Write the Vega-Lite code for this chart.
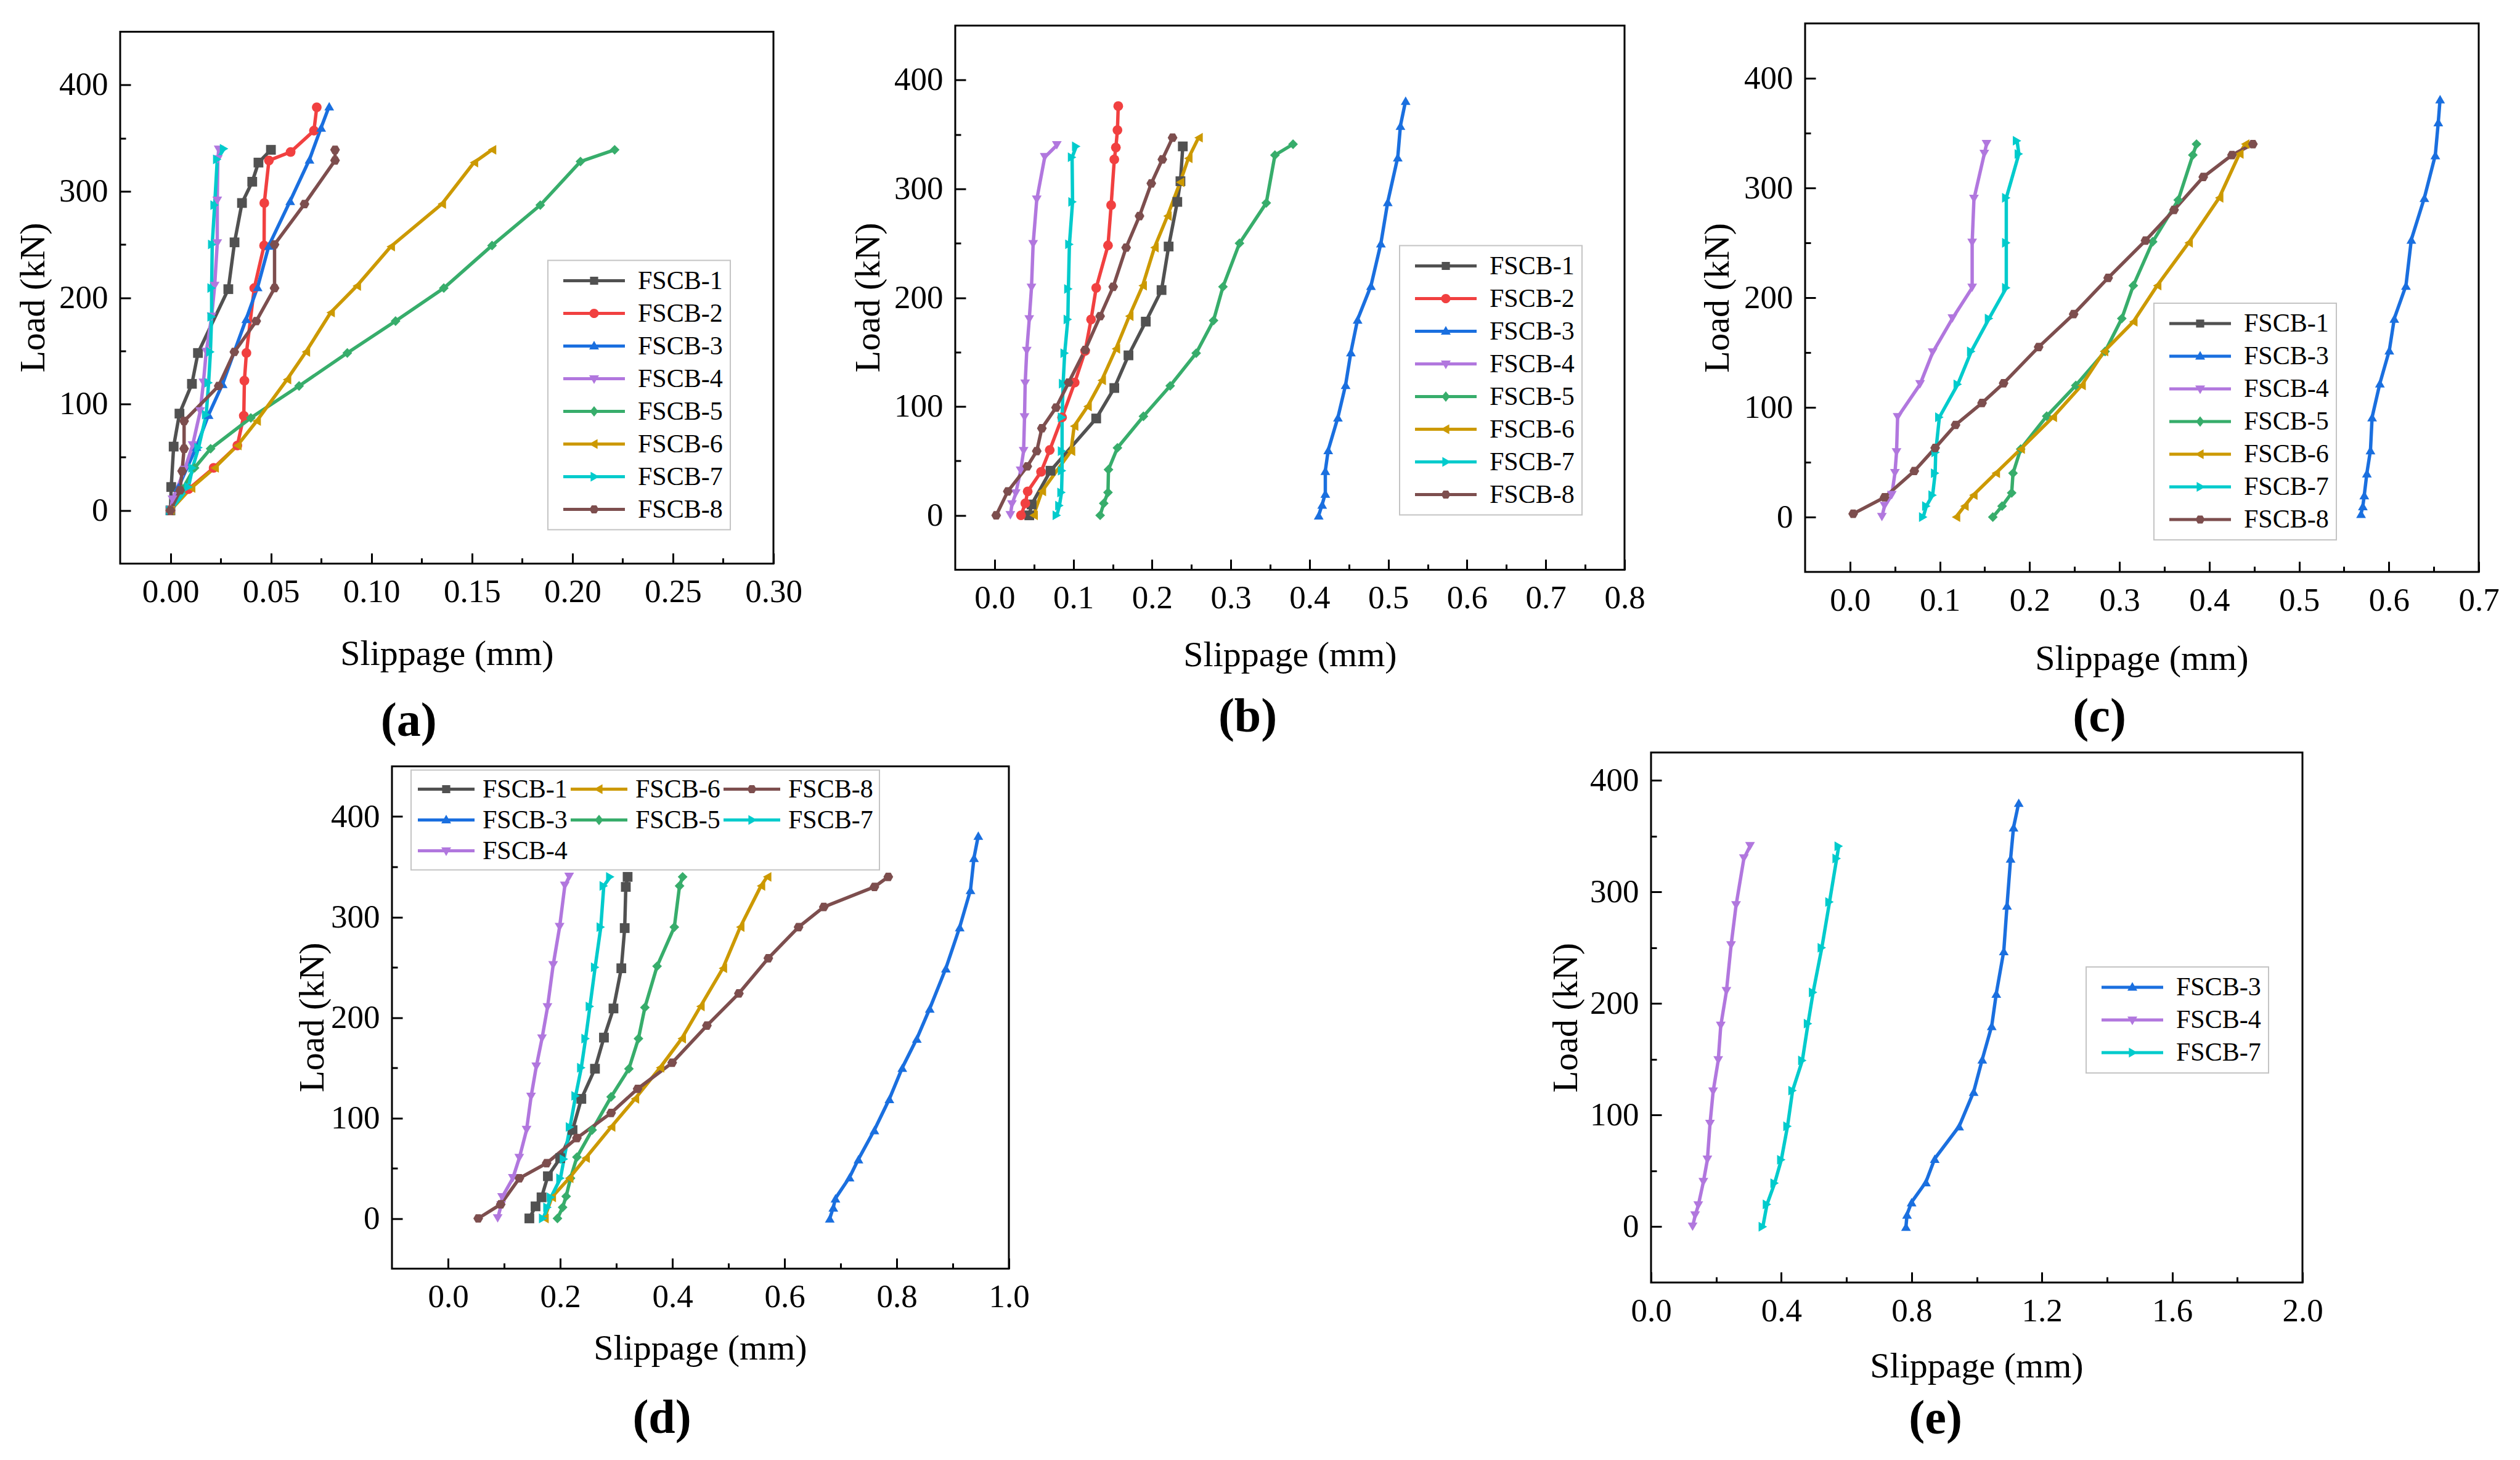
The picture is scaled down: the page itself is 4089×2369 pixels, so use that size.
{
  "$schema": "https://vega.github.io/schema/vega-lite/v6.json",
  "padding": {"left": 23, "top": 36, "right": 5, "bottom": 5},
  "background": "white",
  "spacing": 8,
  "bounds": "full",
  "resolve": {"scale": {"color": "independent", "shape": "independent"}},
  "config": {
    "font": "Liberation Serif",
    "view": {"stroke": "black", "strokeWidth": 3},
    "axis": {
      "labelFont": "Liberation Serif", "labelFontSize": 53, "labelColor": "black",
      "titleFont": "Liberation Serif", "titleFontSize": 58, "titleFontWeight": "normal", "titleColor": "black",
      "titleBaseline": "middle", "titleAlign": "center",
      "tickColor": "black", "tickWidth": 3, "tickSize": -17, "labelPadding": 37,
      "domain": false, "grid": false, "labelFlush": false, "labelOverlap": false
    },
    "legend": {
      "labelFont": "Liberation Serif", "labelFontSize": 42, "labelColor": "black", "labelLimit": 400,
      "strokeColor": "#c4c4c4", "strokeWidth": 2, "fillColor": "white", "symbolStrokeWidth": 0, "symbolOpacity": 1
    },
    "title": {"font": "Liberation Serif", "fontSize": 78, "fontWeight": "bold", "color": "black"}
  },
  "datasets": {
    "a": [
      {"s":"FSCB-1","x":0,"y":0},{"s":"FSCB-1","x":0.0004,"y":22},{"s":"FSCB-1","x":0.0016,"y":60},{"s":"FSCB-1","x":0.0045,"y":91},{"s":"FSCB-1","x":0.0107,"y":119},{"s":"FSCB-1","x":0.0137,"y":148},{"s":"FSCB-1","x":0.0288,"y":208},{"s":"FSCB-1","x":0.0319,"y":252},{"s":"FSCB-1","x":0.0356,"y":289},{"s":"FSCB-1","x":0.0407,"y":309},{"s":"FSCB-1","x":0.0438,"y":327},{"s":"FSCB-1","x":0.05,"y":339},
      {"s":"FSCB-2","x":0,"y":0},{"s":"FSCB-2","x":0.009,"y":20},{"s":"FSCB-2","x":0.0215,"y":40},{"s":"FSCB-2","x":0.0333,"y":61},{"s":"FSCB-2","x":0.0365,"y":89},{"s":"FSCB-2","x":0.0368,"y":122},{"s":"FSCB-2","x":0.0378,"y":148},{"s":"FSCB-2","x":0.0417,"y":209},{"s":"FSCB-2","x":0.0466,"y":249},{"s":"FSCB-2","x":0.0467,"y":289},{"s":"FSCB-2","x":0.049,"y":329},{"s":"FSCB-2","x":0.0598,"y":337},{"s":"FSCB-2","x":0.0714,"y":357},{"s":"FSCB-2","x":0.0728,"y":379},
      {"s":"FSCB-3","x":0,"y":0},{"s":"FSCB-3","x":0.004,"y":22},{"s":"FSCB-3","x":0.013,"y":60},{"s":"FSCB-3","x":0.019,"y":90},{"s":"FSCB-3","x":0.026,"y":119},{"s":"FSCB-3","x":0.0377,"y":180},{"s":"FSCB-3","x":0.0434,"y":210},{"s":"FSCB-3","x":0.049,"y":249},{"s":"FSCB-3","x":0.0596,"y":291},{"s":"FSCB-3","x":0.0692,"y":330},{"s":"FSCB-3","x":0.075,"y":360},{"s":"FSCB-3","x":0.079,"y":380},
      {"s":"FSCB-4","x":0,"y":0},{"s":"FSCB-4","x":0.001,"y":10},{"s":"FSCB-4","x":0.007,"y":38},{"s":"FSCB-4","x":0.011,"y":61},{"s":"FSCB-4","x":0.0148,"y":93},{"s":"FSCB-4","x":0.0164,"y":120},{"s":"FSCB-4","x":0.0178,"y":149},{"s":"FSCB-4","x":0.0205,"y":182},{"s":"FSCB-4","x":0.022,"y":211},{"s":"FSCB-4","x":0.0233,"y":251},{"s":"FSCB-4","x":0.0233,"y":291},{"s":"FSCB-4","x":0.0236,"y":330},{"s":"FSCB-4","x":0.024,"y":339},
      {"s":"FSCB-5","x":0,"y":0},{"s":"FSCB-5","x":0.006,"y":20},{"s":"FSCB-5","x":0.012,"y":40},{"s":"FSCB-5","x":0.02,"y":58},{"s":"FSCB-5","x":0.04,"y":87},{"s":"FSCB-5","x":0.064,"y":117},{"s":"FSCB-5","x":0.088,"y":148},{"s":"FSCB-5","x":0.112,"y":178},{"s":"FSCB-5","x":0.136,"y":209},{"s":"FSCB-5","x":0.16,"y":249},{"s":"FSCB-5","x":0.184,"y":287},{"s":"FSCB-5","x":0.204,"y":328},{"s":"FSCB-5","x":0.221,"y":339},
      {"s":"FSCB-6","x":0,"y":0},{"s":"FSCB-6","x":0.0103,"y":21},{"s":"FSCB-6","x":0.022,"y":40},{"s":"FSCB-6","x":0.0333,"y":61},{"s":"FSCB-6","x":0.0429,"y":84},{"s":"FSCB-6","x":0.058,"y":123},{"s":"FSCB-6","x":0.0674,"y":149},{"s":"FSCB-6","x":0.0797,"y":186},{"s":"FSCB-6","x":0.0927,"y":211},{"s":"FSCB-6","x":0.1096,"y":248},{"s":"FSCB-6","x":0.135,"y":288},{"s":"FSCB-6","x":0.151,"y":327},{"s":"FSCB-6","x":0.16,"y":339},
      {"s":"FSCB-7","x":0,"y":0},{"s":"FSCB-7","x":0.009,"y":22},{"s":"FSCB-7","x":0.011,"y":40},{"s":"FSCB-7","x":0.014,"y":59},{"s":"FSCB-7","x":0.0178,"y":90},{"s":"FSCB-7","x":0.019,"y":120},{"s":"FSCB-7","x":0.0199,"y":149},{"s":"FSCB-7","x":0.0205,"y":182},{"s":"FSCB-7","x":0.0205,"y":209},{"s":"FSCB-7","x":0.0208,"y":250},{"s":"FSCB-7","x":0.022,"y":287},{"s":"FSCB-7","x":0.0233,"y":330},{"s":"FSCB-7","x":0.0267,"y":340},
      {"s":"FSCB-8","x":0,"y":0},{"s":"FSCB-8","x":0.0048,"y":19},{"s":"FSCB-8","x":0.0058,"y":37},{"s":"FSCB-8","x":0.0068,"y":58},{"s":"FSCB-8","x":0.0068,"y":84},{"s":"FSCB-8","x":0.024,"y":117},{"s":"FSCB-8","x":0.0318,"y":149},{"s":"FSCB-8","x":0.0427,"y":178},{"s":"FSCB-8","x":0.0518,"y":209},{"s":"FSCB-8","x":0.0518,"y":250},{"s":"FSCB-8","x":0.0667,"y":288},{"s":"FSCB-8","x":0.0819,"y":329},{"s":"FSCB-8","x":0.0819,"y":339}
    ],
    "b": [
      {"s":"FSCB-1","x":0.044,"y":0},{"s":"FSCB-1","x":0.047,"y":10},{"s":"FSCB-1","x":0.071,"y":41},{"s":"FSCB-1","x":0.129,"y":89},{"s":"FSCB-1","x":0.152,"y":117},{"s":"FSCB-1","x":0.17,"y":147},{"s":"FSCB-1","x":0.192,"y":178},{"s":"FSCB-1","x":0.212,"y":207},{"s":"FSCB-1","x":0.221,"y":247},{"s":"FSCB-1","x":0.232,"y":288},{"s":"FSCB-1","x":0.236,"y":307},{"s":"FSCB-1","x":0.239,"y":339},
      {"s":"FSCB-2","x":0.0335,"y":0},{"s":"FSCB-2","x":0.039,"y":11},{"s":"FSCB-2","x":0.042,"y":22},{"s":"FSCB-2","x":0.059,"y":40},{"s":"FSCB-2","x":0.07,"y":60},{"s":"FSCB-2","x":0.0857,"y":90},{"s":"FSCB-2","x":0.1017,"y":122},{"s":"FSCB-2","x":0.115,"y":151},{"s":"FSCB-2","x":0.1225,"y":180},{"s":"FSCB-2","x":0.129,"y":209},{"s":"FSCB-2","x":0.144,"y":248},{"s":"FSCB-2","x":0.148,"y":285},{"s":"FSCB-2","x":0.152,"y":327},{"s":"FSCB-2","x":0.154,"y":338},{"s":"FSCB-2","x":0.156,"y":354},{"s":"FSCB-2","x":0.157,"y":376},
      {"s":"FSCB-3","x":0.4116,"y":0},{"s":"FSCB-3","x":0.416,"y":10},{"s":"FSCB-3","x":0.42,"y":20},{"s":"FSCB-3","x":0.42,"y":41},{"s":"FSCB-3","x":0.4237,"y":60},{"s":"FSCB-3","x":0.436,"y":90},{"s":"FSCB-3","x":0.4458,"y":120},{"s":"FSCB-3","x":0.4525,"y":150},{"s":"FSCB-3","x":0.461,"y":180},{"s":"FSCB-3","x":0.478,"y":211},{"s":"FSCB-3","x":0.4906,"y":250},{"s":"FSCB-3","x":0.4993,"y":288},{"s":"FSCB-3","x":0.512,"y":329},{"s":"FSCB-3","x":0.5154,"y":358},{"s":"FSCB-3","x":0.522,"y":381},
      {"s":"FSCB-4","x":0.02,"y":0},{"s":"FSCB-4","x":0.022,"y":10},{"s":"FSCB-4","x":0.0268,"y":20},{"s":"FSCB-4","x":0.033,"y":41},{"s":"FSCB-4","x":0.0368,"y":59},{"s":"FSCB-4","x":0.038,"y":90},{"s":"FSCB-4","x":0.0388,"y":121},{"s":"FSCB-4","x":0.0408,"y":151},{"s":"FSCB-4","x":0.044,"y":180},{"s":"FSCB-4","x":0.0468,"y":209},{"s":"FSCB-4","x":0.0489,"y":249},{"s":"FSCB-4","x":0.0535,"y":290},{"s":"FSCB-4","x":0.0636,"y":329},{"s":"FSCB-4","x":0.079,"y":340},
      {"s":"FSCB-5","x":0.134,"y":0},{"s":"FSCB-5","x":0.1386,"y":11},{"s":"FSCB-5","x":0.144,"y":21},{"s":"FSCB-5","x":0.1446,"y":42},{"s":"FSCB-5","x":0.156,"y":62},{"s":"FSCB-5","x":0.189,"y":91},{"s":"FSCB-5","x":0.223,"y":119},{"s":"FSCB-5","x":0.256,"y":149},{"s":"FSCB-5","x":0.278,"y":179},{"s":"FSCB-5","x":0.29,"y":210},{"s":"FSCB-5","x":0.311,"y":250},{"s":"FSCB-5","x":0.345,"y":287},{"s":"FSCB-5","x":0.356,"y":331},{"s":"FSCB-5","x":0.379,"y":341},
      {"s":"FSCB-6","x":0.0495,"y":0},{"s":"FSCB-6","x":0.06,"y":22},{"s":"FSCB-6","x":0.097,"y":59},{"s":"FSCB-6","x":0.101,"y":82},{"s":"FSCB-6","x":0.118,"y":100},{"s":"FSCB-6","x":0.136,"y":124},{"s":"FSCB-6","x":0.154,"y":153},{"s":"FSCB-6","x":0.171,"y":183},{"s":"FSCB-6","x":0.188,"y":211},{"s":"FSCB-6","x":0.203,"y":246},{"s":"FSCB-6","x":0.2195,"y":275},{"s":"FSCB-6","x":0.2356,"y":306},{"s":"FSCB-6","x":0.246,"y":328},{"s":"FSCB-6","x":0.259,"y":347},
      {"s":"FSCB-7","x":0.079,"y":0},{"s":"FSCB-7","x":0.0823,"y":9},{"s":"FSCB-7","x":0.085,"y":21},{"s":"FSCB-7","x":0.0857,"y":41},{"s":"FSCB-7","x":0.0857,"y":59},{"s":"FSCB-7","x":0.0857,"y":90},{"s":"FSCB-7","x":0.087,"y":121},{"s":"FSCB-7","x":0.089,"y":149},{"s":"FSCB-7","x":0.093,"y":180},{"s":"FSCB-7","x":0.0937,"y":208},{"s":"FSCB-7","x":0.095,"y":249},{"s":"FSCB-7","x":0.099,"y":288},{"s":"FSCB-7","x":0.0984,"y":329},{"s":"FSCB-7","x":0.1037,"y":339},
      {"s":"FSCB-8","x":0.002,"y":0},{"s":"FSCB-8","x":0.0167,"y":22},{"s":"FSCB-8","x":0.0415,"y":45},{"s":"FSCB-8","x":0.0535,"y":59},{"s":"FSCB-8","x":0.06,"y":80},{"s":"FSCB-8","x":0.078,"y":99},{"s":"FSCB-8","x":0.094,"y":122},{"s":"FSCB-8","x":0.115,"y":152},{"s":"FSCB-8","x":0.134,"y":183},{"s":"FSCB-8","x":0.1506,"y":210},{"s":"FSCB-8","x":0.167,"y":246},{"s":"FSCB-8","x":0.184,"y":275},{"s":"FSCB-8","x":0.199,"y":305},{"s":"FSCB-8","x":0.213,"y":327},{"s":"FSCB-8","x":0.226,"y":347}
    ],
    "c": [
      {"s":"FSCB-3","x":0.569,"y":3},{"s":"FSCB-3","x":0.571,"y":10},{"s":"FSCB-3","x":0.5726,"y":20},{"s":"FSCB-3","x":0.5755,"y":40},{"s":"FSCB-3","x":0.5795,"y":61},{"s":"FSCB-3","x":0.5813,"y":91},{"s":"FSCB-3","x":0.59,"y":122},{"s":"FSCB-3","x":0.6005,"y":152},{"s":"FSCB-3","x":0.606,"y":181},{"s":"FSCB-3","x":0.619,"y":211},{"s":"FSCB-3","x":0.625,"y":253},{"s":"FSCB-3","x":0.6395,"y":291},{"s":"FSCB-3","x":0.6517,"y":330},{"s":"FSCB-3","x":0.655,"y":360},{"s":"FSCB-3","x":0.657,"y":381},
      {"s":"FSCB-4","x":0.0355,"y":0},{"s":"FSCB-4","x":0.0384,"y":10},{"s":"FSCB-4","x":0.0465,"y":20},{"s":"FSCB-4","x":0.05,"y":40},{"s":"FSCB-4","x":0.0518,"y":59},{"s":"FSCB-4","x":0.053,"y":91},{"s":"FSCB-4","x":0.078,"y":121},{"s":"FSCB-4","x":0.092,"y":150},{"s":"FSCB-4","x":0.114,"y":181},{"s":"FSCB-4","x":0.136,"y":209},{"s":"FSCB-4","x":0.136,"y":250},{"s":"FSCB-4","x":0.138,"y":290},{"s":"FSCB-4","x":0.1495,"y":331},{"s":"FSCB-4","x":0.152,"y":340},
      {"s":"FSCB-5","x":0.159,"y":0},{"s":"FSCB-5","x":0.1693,"y":10},{"s":"FSCB-5","x":0.18,"y":22},{"s":"FSCB-5","x":0.1815,"y":40},{"s":"FSCB-5","x":0.19,"y":62},{"s":"FSCB-5","x":0.219,"y":92},{"s":"FSCB-5","x":0.2514,"y":120},{"s":"FSCB-5","x":0.284,"y":151},{"s":"FSCB-5","x":0.3026,"y":181},{"s":"FSCB-5","x":0.3154,"y":211},{"s":"FSCB-5","x":0.337,"y":251},{"s":"FSCB-5","x":0.3654,"y":289},{"s":"FSCB-5","x":0.3817,"y":330},{"s":"FSCB-5","x":0.3858,"y":340},
      {"s":"FSCB-6","x":0.118,"y":0},{"s":"FSCB-6","x":0.1274,"y":10},{"s":"FSCB-6","x":0.1373,"y":20},{"s":"FSCB-6","x":0.1623,"y":40},{"s":"FSCB-6","x":0.19,"y":62},{"s":"FSCB-6","x":0.2258,"y":91},{"s":"FSCB-6","x":0.2578,"y":120},{"s":"FSCB-6","x":0.2828,"y":151},{"s":"FSCB-6","x":0.3154,"y":178},{"s":"FSCB-6","x":0.342,"y":211},{"s":"FSCB-6","x":0.377,"y":250},{"s":"FSCB-6","x":0.411,"y":291},{"s":"FSCB-6","x":0.4335,"y":331},{"s":"FSCB-6","x":0.44,"y":340},
      {"s":"FSCB-7","x":0.0815,"y":0},{"s":"FSCB-7","x":0.085,"y":10},{"s":"FSCB-7","x":0.092,"y":20},{"s":"FSCB-7","x":0.0948,"y":40},{"s":"FSCB-7","x":0.0954,"y":59},{"s":"FSCB-7","x":0.0995,"y":91},{"s":"FSCB-7","x":0.12,"y":121},{"s":"FSCB-7","x":0.135,"y":151},{"s":"FSCB-7","x":0.1548,"y":181},{"s":"FSCB-7","x":0.174,"y":209},{"s":"FSCB-7","x":0.174,"y":250},{"s":"FSCB-7","x":0.174,"y":291},{"s":"FSCB-7","x":0.188,"y":331},{"s":"FSCB-7","x":0.186,"y":343},
      {"s":"FSCB-8","x":0.0035,"y":3},{"s":"FSCB-8","x":0.0384,"y":18},{"s":"FSCB-8","x":0.0716,"y":42},{"s":"FSCB-8","x":0.0948,"y":63},{"s":"FSCB-8","x":0.1175,"y":84},{"s":"FSCB-8","x":0.147,"y":104},{"s":"FSCB-8","x":0.171,"y":122},{"s":"FSCB-8","x":0.21,"y":155},{"s":"FSCB-8","x":0.249,"y":185},{"s":"FSCB-8","x":0.2874,"y":218},{"s":"FSCB-8","x":0.329,"y":252},{"s":"FSCB-8","x":0.3608,"y":280},{"s":"FSCB-8","x":0.3933,"y":310},{"s":"FSCB-8","x":0.4253,"y":330},{"s":"FSCB-8","x":0.4486,"y":340}
    ],
    "d": [
      {"s":"FSCB-1","x":0.145,"y":0},{"s":"FSCB-1","x":0.156,"y":12},{"s":"FSCB-1","x":0.1667,"y":21},{"s":"FSCB-1","x":0.178,"y":42},{"s":"FSCB-1","x":0.2,"y":60},{"s":"FSCB-1","x":0.222,"y":88},{"s":"FSCB-1","x":0.2377,"y":119},{"s":"FSCB-1","x":0.262,"y":149},{"s":"FSCB-1","x":0.278,"y":180},{"s":"FSCB-1","x":0.295,"y":209},{"s":"FSCB-1","x":0.309,"y":249},{"s":"FSCB-1","x":0.315,"y":289},{"s":"FSCB-1","x":0.317,"y":330},{"s":"FSCB-1","x":0.3202,"y":340},
      {"s":"FSCB-3","x":0.6807,"y":0},{"s":"FSCB-3","x":0.687,"y":11},{"s":"FSCB-3","x":0.6908,"y":20},{"s":"FSCB-3","x":0.716,"y":41},{"s":"FSCB-3","x":0.7318,"y":59},{"s":"FSCB-3","x":0.7602,"y":88},{"s":"FSCB-3","x":0.787,"y":119},{"s":"FSCB-3","x":0.81,"y":150},{"s":"FSCB-3","x":0.8359,"y":179},{"s":"FSCB-3","x":0.859,"y":209},{"s":"FSCB-3","x":0.8877,"y":249},{"s":"FSCB-3","x":0.9124,"y":290},{"s":"FSCB-3","x":0.9316,"y":327},{"s":"FSCB-3","x":0.9378,"y":359},{"s":"FSCB-3","x":0.9455,"y":381},
      {"s":"FSCB-4","x":0.0885,"y":0},{"s":"FSCB-4","x":0.0947,"y":13},{"s":"FSCB-4","x":0.0963,"y":21},{"s":"FSCB-4","x":0.1155,"y":40},{"s":"FSCB-4","x":0.127,"y":60},{"s":"FSCB-4","x":0.14,"y":88},{"s":"FSCB-4","x":0.148,"y":121},{"s":"FSCB-4","x":0.1573,"y":151},{"s":"FSCB-4","x":0.1675,"y":179},{"s":"FSCB-4","x":0.1773,"y":210},{"s":"FSCB-4","x":0.1874,"y":252},{"s":"FSCB-4","x":0.1989,"y":290},{"s":"FSCB-4","x":0.2082,"y":331},{"s":"FSCB-4","x":0.216,"y":340},
      {"s":"FSCB-5","x":0.1951,"y":0},{"s":"FSCB-5","x":0.2043,"y":11},{"s":"FSCB-5","x":0.2106,"y":22},{"s":"FSCB-5","x":0.2184,"y":40},{"s":"FSCB-5","x":0.2298,"y":61},{"s":"FSCB-5","x":0.257,"y":88},{"s":"FSCB-5","x":0.2908,"y":121},{"s":"FSCB-5","x":0.3225,"y":149},{"s":"FSCB-5","x":0.3395,"y":179},{"s":"FSCB-5","x":0.351,"y":210},{"s":"FSCB-5","x":0.3727,"y":251},{"s":"FSCB-5","x":0.4035,"y":290},{"s":"FSCB-5","x":0.4128,"y":331},{"s":"FSCB-5","x":0.4183,"y":340},
      {"s":"FSCB-6","x":0.172,"y":0},{"s":"FSCB-6","x":0.185,"y":21},{"s":"FSCB-6","x":0.216,"y":40},{"s":"FSCB-6","x":0.2453,"y":60},{"s":"FSCB-6","x":0.2908,"y":91},{"s":"FSCB-6","x":0.3333,"y":119},{"s":"FSCB-6","x":0.378,"y":150},{"s":"FSCB-6","x":0.4167,"y":179},{"s":"FSCB-6","x":0.45,"y":211},{"s":"FSCB-6","x":0.4901,"y":249},{"s":"FSCB-6","x":0.521,"y":290},{"s":"FSCB-6","x":0.558,"y":331},{"s":"FSCB-6","x":0.569,"y":340},
      {"s":"FSCB-7","x":0.1696,"y":0},{"s":"FSCB-7","x":0.1773,"y":11},{"s":"FSCB-7","x":0.1835,"y":21},{"s":"FSCB-7","x":0.2005,"y":40},{"s":"FSCB-7","x":0.2067,"y":59},{"s":"FSCB-7","x":0.2175,"y":91},{"s":"FSCB-7","x":0.2275,"y":122},{"s":"FSCB-7","x":0.2376,"y":150},{"s":"FSCB-7","x":0.2453,"y":179},{"s":"FSCB-7","x":0.253,"y":211},{"s":"FSCB-7","x":0.2623,"y":250},{"s":"FSCB-7","x":0.2724,"y":290},{"s":"FSCB-7","x":0.2777,"y":331},{"s":"FSCB-7","x":0.2893,"y":340},
      {"s":"FSCB-8","x":0.0538,"y":0},{"s":"FSCB-8","x":0.0939,"y":14},{"s":"FSCB-8","x":0.1272,"y":40},{"s":"FSCB-8","x":0.1758,"y":55},{"s":"FSCB-8","x":0.2298,"y":80},{"s":"FSCB-8","x":0.2908,"y":105},{"s":"FSCB-8","x":0.338,"y":129},{"s":"FSCB-8","x":0.3997,"y":155},{"s":"FSCB-8","x":0.4616,"y":192},{"s":"FSCB-8","x":0.5186,"y":224},{"s":"FSCB-8","x":0.5711,"y":259},{"s":"FSCB-8","x":0.625,"y":290},{"s":"FSCB-8","x":0.67,"y":310},{"s":"FSCB-8","x":0.7603,"y":330},{"s":"FSCB-8","x":0.785,"y":340}
    ],
    "e": [
      {"s":"FSCB-3","x":0.7827,"y":0},{"s":"FSCB-3","x":0.786,"y":11},{"s":"FSCB-3","x":0.8,"y":22},{"s":"FSCB-3","x":0.844,"y":40},{"s":"FSCB-3","x":0.871,"y":61},{"s":"FSCB-3","x":0.946,"y":90},{"s":"FSCB-3","x":0.9906,"y":121},{"s":"FSCB-3","x":1.017,"y":150},{"s":"FSCB-3","x":1.046,"y":180},{"s":"FSCB-3","x":1.06,"y":209},{"s":"FSCB-3","x":1.083,"y":247},{"s":"FSCB-3","x":1.093,"y":288},{"s":"FSCB-3","x":1.104,"y":330},{"s":"FSCB-3","x":1.113,"y":358},{"s":"FSCB-3","x":1.129,"y":380},
      {"s":"FSCB-4","x":0.1276,"y":0},{"s":"FSCB-4","x":0.1354,"y":10},{"s":"FSCB-4","x":0.145,"y":19},{"s":"FSCB-4","x":0.1606,"y":40},{"s":"FSCB-4","x":0.173,"y":60},{"s":"FSCB-4","x":0.181,"y":92},{"s":"FSCB-4","x":0.1906,"y":121},{"s":"FSCB-4","x":0.2063,"y":149},{"s":"FSCB-4","x":0.214,"y":180},{"s":"FSCB-4","x":0.2315,"y":211},{"s":"FSCB-4","x":0.2457,"y":252},{"s":"FSCB-4","x":0.261,"y":288},{"s":"FSCB-4","x":0.285,"y":330},{"s":"FSCB-4","x":0.304,"y":341},
      {"s":"FSCB-7","x":0.3433,"y":0},{"s":"FSCB-7","x":0.356,"y":20},{"s":"FSCB-7","x":0.3795,"y":39},{"s":"FSCB-7","x":0.4,"y":60},{"s":"FSCB-7","x":0.419,"y":90},{"s":"FSCB-7","x":0.4346,"y":122},{"s":"FSCB-7","x":0.4646,"y":149},{"s":"FSCB-7","x":0.482,"y":182},{"s":"FSCB-7","x":0.4976,"y":210},{"s":"FSCB-7","x":0.5244,"y":250},{"s":"FSCB-7","x":0.548,"y":291},{"s":"FSCB-7","x":0.57,"y":330},{"s":"FSCB-7","x":0.5764,"y":341}
    ]
  },
  "vconcat": [
    {
      "hconcat": [
        {
          "width": 1060, "height": 863,
          "data": {"name": "a"},
          "title": {"text": "(a)", "orient": "bottom", "frame": "bounds", "anchor": "middle", "offset": 41},
          "layer": [
            {"mark": {"type": "line", "strokeWidth": 5.5},
             "encoding": {
               "x": {"field": "x", "type": "quantitative", "scale": {"domain": [-0.025, 0.3], "nice": false, "zero": false},
                     "axis": {"orient": "bottom", "values": [0, 0.05, 0.1, 0.15, 0.2, 0.25, 0.3], "format": ".2f", "title": "Slippage (mm)", "titleX": 530, "titleY": 147}},
               "y": {"field": "y", "type": "quantitative", "scale": {"domain": [-50, 450], "nice": false, "zero": false},
                     "axis": {"orient": "left", "values": [0, 100, 200, 300, 400], "title": "Load (kN)", "titleX": -141, "titleY": 431}},
               "color": {"field": "s", "type": "nominal", "legend": null,
                         "scale": {"domain": ["FSCB-1","FSCB-2","FSCB-3","FSCB-4","FSCB-5","FSCB-6","FSCB-7","FSCB-8"], "range": ["#515151","#F14040","#1A6FDF","#B177DE","#37AD6B","#CC9900","#00CBCC","#7D4E4E"]}},
               "order": {"value": null}
             }},
            {"mark": {"type": "point", "filled": true, "size": 250, "opacity": 1},
             "encoding": {
               "x": {"field": "x", "type": "quantitative", "axis": null},
               "y": {"field": "y", "type": "quantitative", "axis": null},
               "color": {"field": "s", "type": "nominal", "legend": null,
                         "scale": {"domain": ["FSCB-1","FSCB-2","FSCB-3","FSCB-4","FSCB-5","FSCB-6","FSCB-7","FSCB-8"], "range": ["#515151","#F14040","#1A6FDF","#B177DE","#37AD6B","#CC9900","#00CBCC","#7D4E4E"]}},
               "shape": {"field": "s", "type": "nominal", "legend": null,
                         "scale": {"domain": ["FSCB-1","FSCB-2","FSCB-3","FSCB-4","FSCB-5","FSCB-6","FSCB-7","FSCB-8"], "range": ["square","circle","triangle-up","triangle-down","diamond","triangle-left","triangle-right","M-1,0L-0.5,-0.866L0.5,-0.866L1,0L0.5,0.866L-0.5,0.866Z"]}}
             }},
            {"transform": [{"filter": "false"}],
             "mark": {"type": "point", "filled": true, "opacity": 1},
             "encoding": {
               "x": {"field": "x", "type": "quantitative", "axis": {"orient": "bottom", "values": [0.025, 0.075, 0.125, 0.175, 0.225, 0.275], "labels": false, "tickSize": -9, "title": null}},
               "y": {"field": "y", "type": "quantitative", "axis": {"orient": "left", "values": [50, 150, 250, 350], "labels": false, "tickSize": -9, "title": null}},
               "color": {"field": "s", "type": "nominal",
                         "scale": {"domain": ["FSCB-1","FSCB-2","FSCB-3","FSCB-4","FSCB-5","FSCB-6","FSCB-7","FSCB-8"], "range": ["#515151","#F14040","#1A6FDF","#B177DE","#37AD6B","#CC9900","#00CBCC","#7D4E4E"]},
                         "legend": {"orient": "none", "legendX": 694, "legendY": 371, "title": null, "symbolSize": 1600, "symbolOffset": 42, "labelOffset": 50, "padding": 12, "rowPadding": 11}},
               "shape": {"field": "s", "type": "nominal",
                         "scale": {"domain": ["FSCB-1","FSCB-2","FSCB-3","FSCB-4","FSCB-5","FSCB-6","FSCB-7","FSCB-8"],
                                   "range": [
                                     "M-2.5,-0.12L2.5,-0.12L2.5,0.12L-2.5,0.12ZM-0.33,-0.33L0.33,-0.33L0.33,0.33L-0.33,0.33Z",
                                     "M-2.5,-0.12L2.5,-0.12L2.5,0.12L-2.5,0.12ZM0.38,0A0.38,0.38,0,1,1,-0.38,0A0.38,0.38,0,1,1,0.38,0Z",
                                     "M-2.5,-0.12L2.5,-0.12L2.5,0.12L-2.5,0.12ZM0,-0.42L0.4,0.28L-0.4,0.28Z",
                                     "M-2.5,-0.12L2.5,-0.12L2.5,0.12L-2.5,0.12ZM0,0.42L-0.4,-0.28L0.4,-0.28Z",
                                     "M-2.5,-0.12L2.5,-0.12L2.5,0.12L-2.5,0.12ZM0,-0.42L0.34,0L0,0.42L-0.34,0Z",
                                     "M-2.5,-0.12L2.5,-0.12L2.5,0.12L-2.5,0.12ZM-0.42,0L0.28,-0.4L0.28,0.4Z",
                                     "M-2.5,-0.12L2.5,-0.12L2.5,0.12L-2.5,0.12ZM0.42,0L-0.28,0.4L-0.28,-0.4Z",
                                     "M-2.5,-0.12L2.5,-0.12L2.5,0.12L-2.5,0.12ZM-0.38,0L-0.19,-0.33L0.19,-0.33L0.38,0L0.19,0.33L-0.19,0.33Z"]},
                         "legend": {"orient": "none", "legendX": 694, "legendY": 371, "title": null, "symbolSize": 1600, "symbolOffset": 42, "labelOffset": 50, "padding": 12, "rowPadding": 11}}
             }}
          ],
          "resolve": {"scale": {"shape": "independent", "color": "independent"}, "axis": {"x": "independent", "y": "independent"}}
        },
        {"width": 295, "height": 1, "data": {"values": []}, "mark": "point", "view": {"stroke": null}},
        {
          "width": 1086, "height": 883,
          "data": {"name": "b"},
          "title": {"text": "(b)", "orient": "bottom", "frame": "bounds", "anchor": "middle", "offset": 32},
          "layer": [
            {"mark": {"type": "line", "strokeWidth": 5.5},
             "encoding": {
               "x": {"field": "x", "type": "quantitative", "scale": {"domain": [-0.05, 0.8], "nice": false, "zero": false},
                     "axis": {"orient": "bottom", "values": [0, 0.1, 0.2, 0.3, 0.4, 0.5, 0.6, 0.7, 0.8], "format": ".1f", "title": "Slippage (mm)", "titleX": 543, "titleY": 139}},
               "y": {"field": "y", "type": "quantitative", "scale": {"domain": [-50, 450], "nice": false, "zero": false},
                     "axis": {"orient": "left", "values": [0, 100, 200, 300, 400], "title": "Load (kN)", "titleX": -141, "titleY": 441}},
               "color": {"field": "s", "type": "nominal", "legend": null,
                         "scale": {"domain": ["FSCB-1","FSCB-2","FSCB-3","FSCB-4","FSCB-5","FSCB-6","FSCB-7","FSCB-8"], "range": ["#515151","#F14040","#1A6FDF","#B177DE","#37AD6B","#CC9900","#00CBCC","#7D4E4E"]}},
               "order": {"value": null}
             }},
            {"mark": {"type": "point", "filled": true, "size": 250, "opacity": 1},
             "encoding": {
               "x": {"field": "x", "type": "quantitative", "axis": null},
               "y": {"field": "y", "type": "quantitative", "axis": null},
               "color": {"field": "s", "type": "nominal", "legend": null,
                         "scale": {"domain": ["FSCB-1","FSCB-2","FSCB-3","FSCB-4","FSCB-5","FSCB-6","FSCB-7","FSCB-8"], "range": ["#515151","#F14040","#1A6FDF","#B177DE","#37AD6B","#CC9900","#00CBCC","#7D4E4E"]}},
               "shape": {"field": "s", "type": "nominal", "legend": null,
                         "scale": {"domain": ["FSCB-1","FSCB-2","FSCB-3","FSCB-4","FSCB-5","FSCB-6","FSCB-7","FSCB-8"], "range": ["square","circle","triangle-up","triangle-down","diamond","triangle-left","triangle-right","M-1,0L-0.5,-0.866L0.5,-0.866L1,0L0.5,0.866L-0.5,0.866Z"]}}
             }},
            {"transform": [{"filter": "false"}],
             "mark": {"type": "point", "filled": true, "opacity": 1},
             "encoding": {
               "x": {"field": "x", "type": "quantitative", "axis": {"orient": "bottom", "values": [0.05, 0.15, 0.25, 0.35, 0.45, 0.55, 0.65, 0.75], "labels": false, "tickSize": -9, "title": null}},
               "y": {"field": "y", "type": "quantitative", "axis": {"orient": "left", "values": [50, 150, 250, 350], "labels": false, "tickSize": -9, "title": null}},
               "color": {"field": "s", "type": "nominal",
                         "scale": {"domain": ["FSCB-1","FSCB-2","FSCB-3","FSCB-4","FSCB-5","FSCB-6","FSCB-7","FSCB-8"], "range": ["#515151","#F14040","#1A6FDF","#B177DE","#37AD6B","#CC9900","#00CBCC","#7D4E4E"]},
                         "legend": {"orient": "none", "legendX": 721, "legendY": 357, "title": null, "symbolSize": 1600, "symbolOffset": 42, "labelOffset": 50, "padding": 12, "rowPadding": 11}},
               "shape": {"field": "s", "type": "nominal",
                         "scale": {"domain": ["FSCB-1","FSCB-2","FSCB-3","FSCB-4","FSCB-5","FSCB-6","FSCB-7","FSCB-8"],
                                   "range": [
                                     "M-2.5,-0.12L2.5,-0.12L2.5,0.12L-2.5,0.12ZM-0.33,-0.33L0.33,-0.33L0.33,0.33L-0.33,0.33Z",
                                     "M-2.5,-0.12L2.5,-0.12L2.5,0.12L-2.5,0.12ZM0.38,0A0.38,0.38,0,1,1,-0.38,0A0.38,0.38,0,1,1,0.38,0Z",
                                     "M-2.5,-0.12L2.5,-0.12L2.5,0.12L-2.5,0.12ZM0,-0.42L0.4,0.28L-0.4,0.28Z",
                                     "M-2.5,-0.12L2.5,-0.12L2.5,0.12L-2.5,0.12ZM0,0.42L-0.4,-0.28L0.4,-0.28Z",
                                     "M-2.5,-0.12L2.5,-0.12L2.5,0.12L-2.5,0.12ZM0,-0.42L0.34,0L0,0.42L-0.34,0Z",
                                     "M-2.5,-0.12L2.5,-0.12L2.5,0.12L-2.5,0.12ZM-0.42,0L0.28,-0.4L0.28,0.4Z",
                                     "M-2.5,-0.12L2.5,-0.12L2.5,0.12L-2.5,0.12ZM0.42,0L-0.28,0.4L-0.28,-0.4Z",
                                     "M-2.5,-0.12L2.5,-0.12L2.5,0.12L-2.5,0.12ZM-0.38,0L-0.19,-0.33L0.19,-0.33L0.38,0L0.19,0.33L-0.19,0.33Z"]},
                         "legend": {"orient": "none", "legendX": 721, "legendY": 357, "title": null, "symbolSize": 1600, "symbolOffset": 42, "labelOffset": 50, "padding": 12, "rowPadding": 11}}
             }}
          ],
          "resolve": {"scale": {"shape": "independent", "color": "independent"}, "axis": {"x": "independent", "y": "independent"}}
        },
        {"width": 293, "height": 1, "data": {"values": []}, "mark": "point", "view": {"stroke": null}},
        {
          "width": 1093, "height": 890,
          "data": {"name": "c"},
          "title": {"text": "(c)", "orient": "bottom", "frame": "bounds", "anchor": "middle", "offset": 27},
          "layer": [
            {"mark": {"type": "line", "strokeWidth": 5.5},
             "encoding": {
               "x": {"field": "x", "type": "quantitative", "scale": {"domain": [-0.05, 0.7], "nice": false, "zero": false},
                     "axis": {"orient": "bottom", "values": [0, 0.1, 0.2, 0.3, 0.4, 0.5, 0.6, 0.7], "format": ".1f", "title": "Slippage (mm)", "titleX": 546, "titleY": 141}},
               "y": {"field": "y", "type": "quantitative", "scale": {"domain": [-50, 450], "nice": false, "zero": false},
                     "axis": {"orient": "left", "values": [0, 100, 200, 300, 400], "title": "Load (kN)", "titleX": -142, "titleY": 445}},
               "color": {"field": "s", "type": "nominal", "legend": null,
                         "scale": {"domain": ["FSCB-1","FSCB-2","FSCB-3","FSCB-4","FSCB-5","FSCB-6","FSCB-7","FSCB-8"], "range": ["#515151","#F14040","#1A6FDF","#B177DE","#37AD6B","#CC9900","#00CBCC","#7D4E4E"]}},
               "order": {"value": null}
             }},
            {"mark": {"type": "point", "filled": true, "size": 250, "opacity": 1},
             "encoding": {
               "x": {"field": "x", "type": "quantitative", "axis": null},
               "y": {"field": "y", "type": "quantitative", "axis": null},
               "color": {"field": "s", "type": "nominal", "legend": null,
                         "scale": {"domain": ["FSCB-1","FSCB-2","FSCB-3","FSCB-4","FSCB-5","FSCB-6","FSCB-7","FSCB-8"], "range": ["#515151","#F14040","#1A6FDF","#B177DE","#37AD6B","#CC9900","#00CBCC","#7D4E4E"]}},
               "shape": {"field": "s", "type": "nominal", "legend": null,
                         "scale": {"domain": ["FSCB-1","FSCB-2","FSCB-3","FSCB-4","FSCB-5","FSCB-6","FSCB-7","FSCB-8"], "range": ["square","circle","triangle-up","triangle-down","diamond","triangle-left","triangle-right","M-1,0L-0.5,-0.866L0.5,-0.866L1,0L0.5,0.866L-0.5,0.866Z"]}}
             }},
            {"transform": [{"filter": "false"}],
             "mark": {"type": "point", "filled": true, "opacity": 1},
             "encoding": {
               "x": {"field": "x", "type": "quantitative", "axis": {"orient": "bottom", "values": [0.05, 0.15, 0.25, 0.35, 0.45, 0.55, 0.65], "labels": false, "tickSize": -9, "title": null}},
               "y": {"field": "y", "type": "quantitative", "axis": {"orient": "left", "values": [50, 150, 250, 350], "labels": false, "tickSize": -9, "title": null}},
               "color": {"field": "s", "type": "nominal",
                         "scale": {"domain": ["FSCB-1","FSCB-3","FSCB-4","FSCB-5","FSCB-6","FSCB-7","FSCB-8"], "range": ["#515151","#1A6FDF","#B177DE","#37AD6B","#CC9900","#00CBCC","#7D4E4E"]},
                         "legend": {"orient": "none", "legendX": 566, "legendY": 454, "title": null, "symbolSize": 1600, "symbolOffset": 42, "labelOffset": 50, "padding": 12, "rowPadding": 11}},
               "shape": {"field": "s", "type": "nominal",
                         "scale": {"domain": ["FSCB-1","FSCB-3","FSCB-4","FSCB-5","FSCB-6","FSCB-7","FSCB-8"],
                                   "range": [
                                     "M-2.5,-0.12L2.5,-0.12L2.5,0.12L-2.5,0.12ZM-0.33,-0.33L0.33,-0.33L0.33,0.33L-0.33,0.33Z",
                                     "M-2.5,-0.12L2.5,-0.12L2.5,0.12L-2.5,0.12ZM0,-0.42L0.4,0.28L-0.4,0.28Z",
                                     "M-2.5,-0.12L2.5,-0.12L2.5,0.12L-2.5,0.12ZM0,0.42L-0.4,-0.28L0.4,-0.28Z",
                                     "M-2.5,-0.12L2.5,-0.12L2.5,0.12L-2.5,0.12ZM0,-0.42L0.34,0L0,0.42L-0.34,0Z",
                                     "M-2.5,-0.12L2.5,-0.12L2.5,0.12L-2.5,0.12ZM-0.42,0L0.28,-0.4L0.28,0.4Z",
                                     "M-2.5,-0.12L2.5,-0.12L2.5,0.12L-2.5,0.12ZM0.42,0L-0.28,0.4L-0.28,-0.4Z",
                                     "M-2.5,-0.12L2.5,-0.12L2.5,0.12L-2.5,0.12ZM-0.38,0L-0.19,-0.33L0.19,-0.33L0.38,0L0.19,0.33L-0.19,0.33Z"]},
                         "legend": {"orient": "none", "legendX": 566, "legendY": 454, "title": null, "symbolSize": 1600, "symbolOffset": 42, "labelOffset": 50, "padding": 12, "rowPadding": 11}}
             }}
          ],
          "resolve": {"scale": {"shape": "independent", "color": "independent"}, "axis": {"x": "independent", "y": "independent"}}
        }
      ],
      "spacing": 0,
      "bounds": "flush",
      "center": true,
      "resolve": {"scale": {"color": "independent", "shape": "independent"}}
    },
    {
      "hconcat": [
        {"width": 441, "height": 1, "data": {"values": []}, "mark": "point", "view": {"stroke": null}},
        {
          "width": 1001, "height": 815,
          "data": {"name": "d"},
          "title": {"text": "(d)", "orient": "bottom", "frame": "bounds", "anchor": "middle", "offset": 45},
          "layer": [
            {"mark": {"type": "line", "strokeWidth": 5.5},
             "encoding": {
               "x": {"field": "x", "type": "quantitative", "scale": {"domain": [-0.1, 1.0], "nice": false, "zero": false},
                     "axis": {"orient": "bottom", "values": [0, 0.2, 0.4, 0.6, 0.8, 1.0], "format": ".1f", "title": "Slippage (mm)", "titleX": 500, "titleY": 130}},
               "y": {"field": "y", "type": "quantitative", "scale": {"domain": [-50, 450], "nice": false, "zero": false},
                     "axis": {"orient": "left", "values": [0, 100, 200, 300, 400], "title": "Load (kN)", "titleX": -129, "titleY": 407}},
               "color": {"field": "s", "type": "nominal", "legend": null,
                         "scale": {"domain": ["FSCB-1","FSCB-2","FSCB-3","FSCB-4","FSCB-5","FSCB-6","FSCB-7","FSCB-8"], "range": ["#515151","#F14040","#1A6FDF","#B177DE","#37AD6B","#CC9900","#00CBCC","#7D4E4E"]}},
               "order": {"value": null}
             }},
            {"mark": {"type": "point", "filled": true, "size": 250, "opacity": 1},
             "encoding": {
               "x": {"field": "x", "type": "quantitative", "axis": null},
               "y": {"field": "y", "type": "quantitative", "axis": null},
               "color": {"field": "s", "type": "nominal", "legend": null,
                         "scale": {"domain": ["FSCB-1","FSCB-2","FSCB-3","FSCB-4","FSCB-5","FSCB-6","FSCB-7","FSCB-8"], "range": ["#515151","#F14040","#1A6FDF","#B177DE","#37AD6B","#CC9900","#00CBCC","#7D4E4E"]}},
               "shape": {"field": "s", "type": "nominal", "legend": null,
                         "scale": {"domain": ["FSCB-1","FSCB-2","FSCB-3","FSCB-4","FSCB-5","FSCB-6","FSCB-7","FSCB-8"], "range": ["square","circle","triangle-up","triangle-down","diamond","triangle-left","triangle-right","M-1,0L-0.5,-0.866L0.5,-0.866L1,0L0.5,0.866L-0.5,0.866Z"]}}
             }},
            {"transform": [{"filter": "false"}],
             "mark": {"type": "point", "filled": true, "opacity": 1},
             "encoding": {
               "x": {"field": "x", "type": "quantitative", "axis": {"orient": "bottom", "values": [0.1, 0.3, 0.5, 0.7, 0.9], "labels": false, "tickSize": -9, "title": null}},
               "y": {"field": "y", "type": "quantitative", "axis": {"orient": "left", "values": [50, 150, 250, 350], "labels": false, "tickSize": -9, "title": null}},
               "color": {"field": "s", "type": "nominal",
                         "scale": {"domain": ["FSCB-1","FSCB-6","FSCB-8","FSCB-3","FSCB-5","FSCB-7","FSCB-4"], "range": ["#515151","#CC9900","#7D4E4E","#1A6FDF","#37AD6B","#00CBCC","#B177DE"]},
                         "legend": {"orient": "none", "direction": "horizontal", "legendX": 31, "legendY": 6, "title": null, "columns": 3, "columnPadding": 4, "symbolSize": 1600, "symbolOffset": 26, "labelOffset": 38, "padding": 10, "rowPadding": 8}},
               "shape": {"field": "s", "type": "nominal",
                         "scale": {"domain": ["FSCB-1","FSCB-6","FSCB-8","FSCB-3","FSCB-5","FSCB-7","FSCB-4"],
                                   "range": [
                                     "M-2.3,-0.12L2.3,-0.12L2.3,0.12L-2.3,0.12ZM-0.33,-0.33L0.33,-0.33L0.33,0.33L-0.33,0.33Z",
                                     "M-2.3,-0.12L2.3,-0.12L2.3,0.12L-2.3,0.12ZM-0.42,0L0.28,-0.4L0.28,0.4Z",
                                     "M-2.3,-0.12L2.3,-0.12L2.3,0.12L-2.3,0.12ZM-0.38,0L-0.19,-0.33L0.19,-0.33L0.38,0L0.19,0.33L-0.19,0.33Z",
                                     "M-2.3,-0.12L2.3,-0.12L2.3,0.12L-2.3,0.12ZM0,-0.42L0.4,0.28L-0.4,0.28Z",
                                     "M-2.3,-0.12L2.3,-0.12L2.3,0.12L-2.3,0.12ZM0,-0.42L0.34,0L0,0.42L-0.34,0Z",
                                     "M-2.3,-0.12L2.3,-0.12L2.3,0.12L-2.3,0.12ZM0.42,0L-0.28,0.4L-0.28,-0.4Z",
                                     "M-2.3,-0.12L2.3,-0.12L2.3,0.12L-2.3,0.12ZM0,0.42L-0.4,-0.28L0.4,-0.28Z"]},
                         "legend": {"orient": "none", "direction": "horizontal", "legendX": 31, "legendY": 6, "title": null, "columns": 3, "columnPadding": 4, "symbolSize": 1600, "symbolOffset": 26, "labelOffset": 38, "padding": 10, "rowPadding": 8}}
             }}
          ],
          "resolve": {"scale": {"shape": "independent", "color": "independent"}, "axis": {"x": "independent", "y": "independent"}}
        },
        {"width": 1042, "height": 1, "data": {"values": []}, "mark": "point", "view": {"stroke": null}},
        {
          "width": 1057, "height": 860,
          "data": {"name": "e"},
          "title": {"text": "(e)", "orient": "bottom", "frame": "bounds", "anchor": "middle", "offset": 18},
          "layer": [
            {"mark": {"type": "line", "strokeWidth": 5.5},
             "encoding": {
               "x": {"field": "x", "type": "quantitative", "scale": {"domain": [0, 2.0], "nice": false, "zero": false},
                     "axis": {"orient": "bottom", "values": [0, 0.4, 0.8, 1.2, 1.6, 2.0], "format": ".1f", "title": "Slippage (mm)", "titleX": 528, "titleY": 136}},
               "y": {"field": "y", "type": "quantitative", "scale": {"domain": [-50, 425], "nice": false, "zero": false},
                     "axis": {"orient": "left", "values": [0, 100, 200, 300, 400], "title": "Load (kN)", "titleX": -138, "titleY": 430}},
               "color": {"field": "s", "type": "nominal", "legend": null,
                         "scale": {"domain": ["FSCB-1","FSCB-2","FSCB-3","FSCB-4","FSCB-5","FSCB-6","FSCB-7","FSCB-8"], "range": ["#515151","#F14040","#1A6FDF","#B177DE","#37AD6B","#CC9900","#00CBCC","#7D4E4E"]}},
               "order": {"value": null}
             }},
            {"mark": {"type": "point", "filled": true, "size": 250, "opacity": 1},
             "encoding": {
               "x": {"field": "x", "type": "quantitative", "axis": null},
               "y": {"field": "y", "type": "quantitative", "axis": null},
               "color": {"field": "s", "type": "nominal", "legend": null,
                         "scale": {"domain": ["FSCB-1","FSCB-2","FSCB-3","FSCB-4","FSCB-5","FSCB-6","FSCB-7","FSCB-8"], "range": ["#515151","#F14040","#1A6FDF","#B177DE","#37AD6B","#CC9900","#00CBCC","#7D4E4E"]}},
               "shape": {"field": "s", "type": "nominal", "legend": null,
                         "scale": {"domain": ["FSCB-1","FSCB-2","FSCB-3","FSCB-4","FSCB-5","FSCB-6","FSCB-7","FSCB-8"], "range": ["square","circle","triangle-up","triangle-down","diamond","triangle-left","triangle-right","M-1,0L-0.5,-0.866L0.5,-0.866L1,0L0.5,0.866L-0.5,0.866Z"]}}
             }},
            {"transform": [{"filter": "false"}],
             "mark": {"type": "point", "filled": true, "opacity": 1},
             "encoding": {
               "x": {"field": "x", "type": "quantitative", "axis": {"orient": "bottom", "values": [0.2, 0.6, 1.0, 1.4, 1.8], "labels": false, "tickSize": -9, "title": null}},
               "y": {"field": "y", "type": "quantitative", "axis": {"orient": "left", "values": [50, 150, 250, 350], "labels": false, "tickSize": -9, "title": null}},
               "color": {"field": "s", "type": "nominal",
                         "scale": {"domain": ["FSCB-3","FSCB-4","FSCB-7"], "range": ["#1A6FDF","#B177DE","#00CBCC"]},
                         "legend": {"orient": "none", "legendX": 706, "legendY": 348, "title": null, "symbolSize": 1600, "symbolOffset": 42, "labelOffset": 50, "padding": 12, "rowPadding": 11}},
               "shape": {"field": "s", "type": "nominal",
                         "scale": {"domain": ["FSCB-3","FSCB-4","FSCB-7"],
                                   "range": [
                                     "M-2.5,-0.12L2.5,-0.12L2.5,0.12L-2.5,0.12ZM0,-0.42L0.4,0.28L-0.4,0.28Z",
                                     "M-2.5,-0.12L2.5,-0.12L2.5,0.12L-2.5,0.12ZM0,0.42L-0.4,-0.28L0.4,-0.28Z",
                                     "M-2.5,-0.12L2.5,-0.12L2.5,0.12L-2.5,0.12ZM0.42,0L-0.28,0.4L-0.28,-0.4Z"]},
                         "legend": {"orient": "none", "legendX": 706, "legendY": 348, "title": null, "symbolSize": 1600, "symbolOffset": 42, "labelOffset": 50, "padding": 12, "rowPadding": 11}}
             }}
          ],
          "resolve": {"scale": {"shape": "independent", "color": "independent"}, "axis": {"x": "independent", "y": "independent"}}
        }
      ],
      "spacing": 0,
      "bounds": "flush",
      "center": true,
      "resolve": {"scale": {"color": "independent", "shape": "independent"}}
    }
  ]
}
